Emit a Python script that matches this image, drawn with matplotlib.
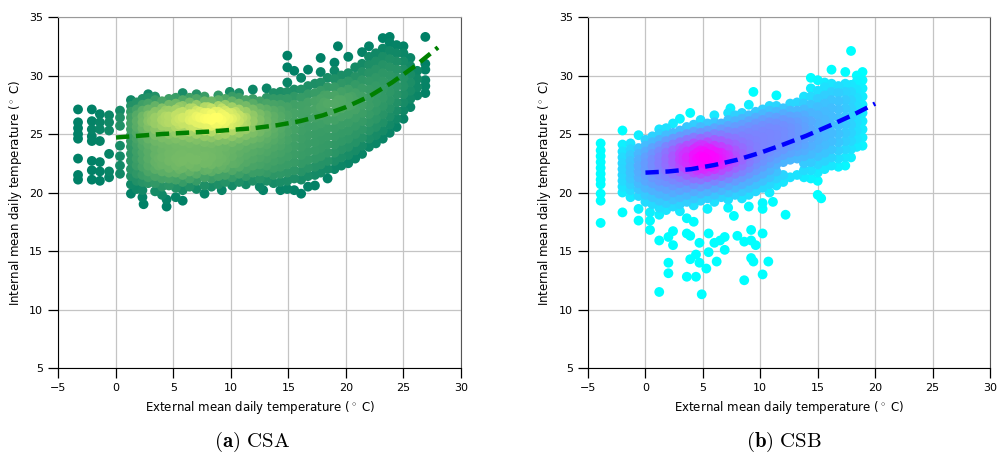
import numpy as np
import matplotlib.pyplot as plt

plt.rcParams['mathtext.fontset'] = 'cm'

# Daily means (external temp: internal temps) for each building, one line per external-temp column
csa_cold = """
-3.3: 27.1 26.0 25.5 25.0 24.6 22.9 21.5 21.1
-2.1: 27.1 26.1 25.4 24.8 24.4 22.7 21.9 21.1
-1.4: 26.7 26.0 25.4 24.4 22.6 21.8 21.0
-0.6: 26.6 26.0 25.3 23.3 21.8 21.3
0.35: 27.0 26.4 25.7 24.0 23.1 22.3 21.6
"""

csa_mild = """
1.3: 19.9 20.7 21.4 22.0 22.7 23.3 23.9 24.4 24.9 25.4 25.9 26.4 26.9 27.4 27.9
1.8: 20.3 21.0 21.6 22.3 22.9 23.5 24.1 24.6 25.1 25.6 26.1 26.6 27.1 27.7
2.3: 19.6 20.2 20.9 21.5 22.2 22.8 23.4 24.0 24.5 25.0 25.5 26.0 26.5 27.0 27.5 28.0
2.4: 19.0
2.8: 20.8 21.3 21.8 22.3 22.9 23.5 24.1 24.6 25.1 25.6 26.1 26.6 27.1 27.6 28.1 28.4
3.4: 20.1 20.8 21.4 22.0 22.6 23.2 23.8 24.4 24.9 25.4 25.9 26.4 26.9 27.4 27.9 28.2
4.0: 19.8 20.5 21.2 21.8 22.4 23.0 23.6 24.2 24.7 25.2 25.7 26.2 26.7 27.2 27.8
4.4: 18.8 19.4
4.6: 20.6 21.2 21.7 22.1 22.7 23.3 23.9 24.5 25.0 25.5 26.0 26.5 27.0 27.5 28.0
5.2: 19.6 20.4 21.1 21.7 22.3 22.9 23.5 24.1 24.6 25.1 25.6 26.1 26.6 27.1 27.6 28.1
5.8: 19.3 20.2 20.9 21.5 22.1 22.7 23.3 23.9 24.4 24.9 25.4 25.9 26.4 26.9 27.4 27.9 28.5
6.4: 20.5 21.2 21.8 22.4 23.0 23.6 24.2 24.7 25.2 25.7 26.2 26.7 27.2 27.7 28.1
7.0: 20.3 21.0 21.6 22.2 22.8 23.4 24.0 24.5 25.0 25.5 26.0 26.5 27.0 27.5 28.0 28.4
7.7: 19.9 20.6 21.3 21.9 22.5 23.1 23.7 24.3 24.8 25.3 25.8 26.3 26.8 27.3 27.8 28.2
8.3: 20.5 21.2 21.8 22.4 23.0 23.6 24.2 24.7 25.2 25.7 26.2 26.7 27.2 27.8
8.9: 20.7 21.4 22.0 22.6 23.2 23.8 24.4 24.9 25.4 25.9 26.4 26.9 27.4 27.9 28.3
9.2: 20.2
9.5: 20.9 21.5 22.1 22.7 23.3 23.9 24.5 25.0 25.5 26.0 26.5 27.0 27.5 28.0
9.9: 28.6
10.1: 20.6 21.3 21.9 22.5 23.1 23.7 24.3 24.8 25.3 25.8 26.3 26.8 27.3 27.8 28.2
10.7: 20.9 21.6 22.2 22.8 23.4 24.0 24.6 25.1 25.6 26.1 26.6 27.1 27.6 28.1 28.5
11.3: 20.7 21.4 22.0 22.6 23.2 23.8 24.4 24.9 25.4 25.9 26.4 26.9 27.4 27.9
11.9: 21.0 21.7 22.3 22.9 23.5 24.1 24.6 25.1 25.6 26.1 26.6 27.1 27.6 28.0 28.8
12.5: 20.5 21.2 21.8 22.4 23.0 23.6 24.2 24.7 25.2 25.7 26.2 26.7 27.2 27.8
12.8: 20.2
13.1: 21.0 21.7 22.3 22.9 23.5 24.1 24.6 25.1 25.6 26.1 26.6 27.1 27.6 28.1 28.9
13.7: 20.8 21.5 22.1 22.7 23.3 23.9 24.5 25.0 25.5 26.0 26.5 27.0 27.5 28.0 28.5
14.3: 20.2 20.9 21.6 22.2 22.8 23.4 24.0 24.5 25.0 25.5 26.0 26.5 27.0 27.5 28.0 28.6
3.1: 26.1 26.6
4.3: 26.0 26.5 27.0
5.5: 25.8 26.3 26.8 27.3 22.0 22.6 23.2
6.7: 25.7 26.2 26.7 27.2 22.2 22.8
7.3: 25.9 26.4 26.9
8.0: 25.8 26.3 26.8 27.3 22.0 22.6 23.2
8.6: 25.9 26.4 26.9
9.2: 25.7 26.2 26.7 27.2 22.3 22.9
9.8: 25.8 26.3 26.8
10.4: 25.9 26.4 26.9 22.5
11.0: 25.8 26.4
3.7: 22.3 22.9
"""

csa_warm = """
14.9: 20.3 21.0 21.7 22.4 23.1 23.8 24.5 25.2 25.9 26.6 27.3 28.0 28.6 29.4 30.7 31.7
15.5: 20.2 21.2 21.9 22.6 23.3 24.0 24.7 25.4 26.1 26.8 27.5 28.2 28.8 30.4
16.1: 19.9 21.1 21.8 22.5 23.2 23.9 24.6 25.3 26.0 26.7 27.4 28.1 28.8 29.8
16.7: 20.5 21.4 22.1 22.8 23.5 24.2 24.9 25.6 26.3 27.0 27.7 28.4 29.1 30.5
17.3: 20.6 21.5 22.2 22.9 23.6 24.3 25.0 25.7 26.4 27.1 27.8 28.5 29.3
17.8: 21.7 22.4 23.1 23.8 24.5 25.2 25.9 26.6 27.3 28.0 28.7 29.4 30.3 31.5
18.4: 21.2 22.0 22.7 23.4 24.1 24.8 25.5 26.2 26.9 27.6 28.3 29.0 29.8
19.0: 22.0 22.7 23.4 24.1 24.8 25.5 26.2 26.9 27.6 28.3 29.0 29.7 30.4 31.1
19.3: 32.5
19.6: 22.3 23.0 23.7 24.4 25.1 25.8 26.5 27.2 27.9 28.6 29.3 30.0
20.2: 22.5 23.2 23.9 24.6 25.3 26.0 26.7 27.4 28.1 28.8 29.5 30.2 31.6
20.8: 22.9 23.6 24.3 25.0 25.7 26.4 27.1 27.8 28.5 29.2 29.9 30.7
21.4: 23.3 24.0 24.7 25.4 26.1 26.8 27.5 28.2 28.9 29.6 30.3 31.0 32.0
22.0: 23.9 24.6 25.3 26.0 26.7 27.4 28.1 28.8 29.5 30.2 30.9 31.6 32.5
22.6: 24.2 24.9 25.6 26.3 27.0 27.7 28.4 29.1 29.8 30.5 31.2 31.9
23.2: 24.6 25.3 26.0 26.7 27.4 28.1 28.8 29.5 30.2 30.9 31.6 32.3 33.2
23.8: 25.1 25.8 26.5 27.2 27.9 28.6 29.3 30.0 30.7 31.4 32.1 32.8 33.3
24.4: 25.6 26.3 27.0 27.7 28.4 29.1 29.8 30.5 31.2 31.9 32.6
25.0: 26.3 27.0 27.7 28.4 29.1 29.8 30.5 31.2 31.9 32.5
25.6: 27.3 28.0 28.7 29.4 30.1 30.8 31.5
26.2: 28.3 29.0 29.7 30.4
26.9: 28.5 29.1 29.6 30.5 31.0 33.3
18.1: 27.0 27.7 28.3
19.3: 27.2 27.9
20.5: 27.5 28.2
"""

csb_cold = """
-3.9: 24.2 23.6 23.1 22.6 22.1 21.6 21.1 20.7 19.9 19.3 17.4
-2.0: 25.3 24.1 23.5 23.0 22.5 22.0 21.5 21.0 20.5 20.0 18.3
-1.3: 24.2 23.7 23.2 22.7 22.2 21.7 21.2 20.7 20.2 19.6
-0.6: 24.9 23.8 23.3 22.8 22.3 21.8 21.3 20.8 20.3 19.7 18.6 17.6
"""

csb_mild = """
0.0: 19.2 19.8 20.4 21.0 21.5 22.0 22.5 23.0 23.5 24.0 24.5
0.4: 16.8 18.3 17.6
0.6: 19.0 19.6 20.2 20.8 21.3 21.8 22.3 22.8 23.3 23.8 24.3 24.8
1.2: 15.9 11.5 18.1 18.7 19.3 19.9 20.5 21.0 21.5 22.0 22.5 23.0 23.5 24.0 24.5 25.0 25.4
1.8: 18.5 19.1 19.7 20.3 20.9 21.4 21.9 22.4 22.9 23.4 23.9 24.4 24.9 25.5
2.0: 16.2 14.0 13.1
2.4: 16.7 15.5 18.8 19.4 20.0 20.6 21.1 21.6 22.1 22.6 23.1 23.6 24.1 24.6 25.1 25.9
3.0: 18.4 19.0 19.6 20.2 20.8 21.3 21.8 22.3 22.8 23.3 23.8 24.3 24.8 25.3 26.3
3.6: 16.5 12.8 17.8 19.2 19.8 20.4 21.0 21.5 22.0 22.5 23.0 23.5 24.0 24.5 25.0 25.6
3.9: 16.3 14.3 26.8
4.2: 17.5 18.9 19.5 20.1 20.7 21.2 21.7 22.2 22.7 23.2 23.7 24.2 24.7 25.2 25.8
4.4: 14.7 12.8
4.7: 15.7 14.0
4.8: 19.3 19.9 20.5 21.1 21.6 22.1 22.6 23.1 23.6 24.1 24.6 25.1 25.6 26.2
4.9: 11.3
5.3: 13.5
5.4: 18.6 19.5 20.1 20.7 21.3 21.8 22.3 22.8 23.3 23.8 24.3 24.8 25.3 25.9
5.5: 16.5 14.9
6.0: 15.7 19.2 19.8 20.4 21.0 21.5 22.0 22.5 23.0 23.5 24.0 24.5 25.0 25.5 26.0 26.6
6.2: 14.1
6.5: 15.9
6.6: 19.6 20.2 20.8 21.4 21.9 22.4 22.9 23.4 23.9 24.4 24.9 25.4 25.9
6.9: 16.2 15.1
7.2: 18.7 19.4 20.0 20.6 21.2 21.7 22.2 22.7 23.2 23.7 24.2 24.7 25.2 25.7 26.2 26.8
7.4: 27.2
7.7: 18.0
7.8: 19.8 20.4 21.0 21.6 22.1 22.6 23.1 23.6 24.1 24.6 25.1 25.6 26.1 26.6
8.0: 16.3
8.4: 19.5 20.1 20.7 21.3 21.8 22.3 22.8 23.3 23.8 24.3 24.8 25.3 25.8 26.3 26.8
8.6: 15.8 12.5
9.0: 18.8 19.8 20.4 21.0 21.6 22.1 22.6 23.1 23.6 24.1 24.6 25.1 25.6 26.1 26.6 27.5
9.2: 16.8 15.9 14.4
9.4: 28.6 14.1
9.6: 15.5 20.1 20.7 21.3 21.9 22.4 22.9 23.4 23.9 24.4 24.9 25.4 25.9 26.4 26.9
10.2: 19.1 18.6 16.5 13.0 20.4 21.0 21.6 22.2 22.7 23.2 23.7 24.2 24.7 25.2 25.7 26.2 26.7 27.1
10.7: 14.1
10.8: 20.0 20.7 21.3 21.9 22.5 23.0 23.5 24.0 24.5 25.0 25.5 26.0 26.5 27.0 27.4
11.1: 19.2
11.4: 20.6 21.2 21.8 22.4 22.9 23.4 23.9 24.4 24.9 25.4 25.9 26.4 26.9 27.4 28.3
12.0: 20.9 21.5 22.6 23.2 23.7 24.2 24.7 25.2 25.7 26.2 26.7 27.2
12.2: 18.1
12.6: 21.3 22.8 23.4 24.0 24.5 25.0 25.5 26.0 26.5 27.0 27.6
13.2: 21.5 22.9 23.5 24.0 24.5 25.0 25.5 26.0 26.5 27.0 27.7
13.8: 21.3 21.9 22.5 23.1 23.6 24.1 24.6 25.1 25.6 26.1 26.6 27.1 27.6 28.2
3.3: 22.2 22.7 23.2 23.7
4.5: 21.9 22.4 22.9 23.4 23.9
5.1: 22.0 22.5 23.0 23.5 24.0
5.7: 22.2 22.7 23.2 23.7
6.3: 22.4 22.9 23.4
6.9: 22.6 23.2
7.5: 22.8
"""

csb_warm = """
14.4: 21.2 21.9 22.6 23.3 24.0 24.7 25.4 26.1 26.8 27.5 28.2 28.9 29.8
15.0: 19.8 21.0 21.7 22.4 23.1 23.8 24.5 25.2 25.9 26.6 27.3 28.0 28.7 29.6
15.3: 19.5
15.6: 22.0 22.7 23.4 24.1 24.8 25.5 26.2 26.9 27.6 28.3 29.0 29.4
16.2: 22.3 23.0 23.7 24.4 25.1 25.8 26.5 27.2 27.9 28.6 29.3 30.5
16.8: 22.2 22.9 23.6 24.3 25.0 25.7 26.4 27.1 27.8 28.5 29.1
17.4: 22.3 23.0 23.7 24.4 25.1 25.8 26.5 27.2 27.9 28.6 29.3 30.3
17.9: 23.0 23.7 24.4 25.1 25.8 26.5 27.2 27.9 28.6 29.2 32.1
18.4: 23.9 24.6 25.3 26.0 26.7 27.4 28.1 28.8 29.5 30.0
18.9: 24.0 24.7 25.4 26.1 26.8 27.5 28.2 28.9 29.6 30.3
"""

# Quadratic trend lines, sampled every 2 degrees
csa_fit_x = [0, 2, 4, 6, 8, 10, 12, 14, 16, 18, 20, 22, 24, 26, 28]
csa_fit_y = [24.7, 24.85, 25.0, 25.1, 25.2, 25.35, 25.5, 25.75, 26.1, 26.6,
             27.3, 28.2, 29.4, 30.8, 32.4]
csb_fit_x = [0, 2, 4, 6, 8, 10, 12, 14, 16, 18, 20]
csb_fit_y = [21.7, 21.8, 22.0, 22.35, 22.8, 23.4, 24.1, 24.85, 25.7, 26.6, 27.6]

x_ticks = [-5, 0, 5, 10, 15, 20, 25, 30]
y_ticks = [5, 10, 15, 20, 25, 30, 35]


def parse(*blocks):
    xs, ys = [], []
    for block in blocks:
        for line in block.strip().splitlines():
            x, vals = line.split(':')
            for v in vals.split():
                xs.append(float(x))
                ys.append(float(v))
    return np.array(xs), np.array(ys)


def density(x, y, bx=1.6, by=1.0):
    dx = (x[:, None] - x[None, :]) / bx
    dy = (y[:, None] - y[None, :]) / by
    return np.exp(-0.5 * (dx ** 2 + dy ** 2)).sum(axis=1)


def panel(ax, x, y, cmap, fit_x, fit_y, fit_color, lo=0.15, gamma=2.0):
    d = density(x, y)
    d = np.clip((d - lo * d.max()) / ((1 - lo) * d.max()), 0, 1) ** gamma
    order = np.argsort(d)
    ax.scatter(x[order], y[order], c=d[order], cmap=cmap, vmin=0, vmax=1,
               s=50, edgecolors='none', zorder=2)
    ax.plot(fit_x, fit_y, color=fit_color, lw=3.2, dashes=(3.0, 1.5), zorder=3)
    ax.set_xlim(-5, 30)
    ax.set_ylim(5, 35)
    ax.set_xticks(x_ticks)
    ax.set_yticks(y_ticks)
    ax.grid(True, color='#c4c4c4', lw=0.9, zorder=0)
    ax.set_axisbelow(True)
    ax.tick_params(labelsize=8, length=7.5, width=0.9, direction='out')
    ax.set_xlabel(r'External mean daily temperature ($^\circ$ C)', fontsize=8.5)
    ax.set_ylabel(r'Internal mean daily temperature ($^\circ$ C)', fontsize=8.5)
    ax.spines['top'].set_color('#999999')
    ax.spines['right'].set_color('#555555')


csa_x, csa_y = parse(csa_cold, csa_mild, csa_warm)
csb_x, csb_y = parse(csb_cold, csb_mild, csb_warm)

fig = plt.figure(figsize=(9.98, 4.61), dpi=100)
ax1 = fig.add_axes([0.0586, 0.2017, 0.4033, 0.7614])
ax2 = fig.add_axes([0.5892, 0.2017, 0.4028, 0.7614])

panel(ax1, csa_x, csa_y, 'summer', csa_fit_x, csa_fit_y, 'green', gamma=1.7)
panel(ax2, csb_x, csb_y, 'cool', csb_fit_x, csb_fit_y, 'blue', gamma=1.5)

fig.text(0.252, 0.03, r'$\mathbf{(a)}\ \mathrm{CSA}$', fontsize=15, ha='center')
fig.text(0.786, 0.03, r'$\mathbf{(b)}\ \mathrm{CSB}$', fontsize=15, ha='center')

fig.savefig('out.png', dpi=100)
